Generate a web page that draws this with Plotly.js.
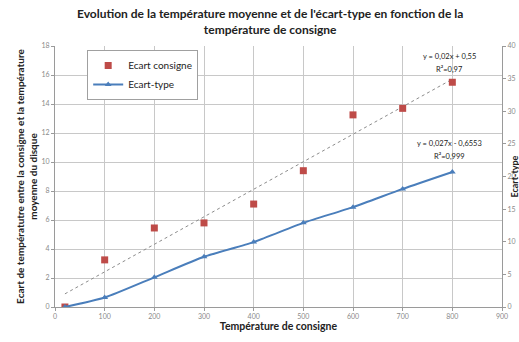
<!DOCTYPE html>
<html><head><meta charset="utf-8">
<script src="https://cdn.plot.ly/plotly-3.0.1.min.js"></script>
<style>html,body{margin:0;padding:0;background:#fff}#c{width:519px;height:342px}</style>
</head><body><div id="c"></div>
<script>
const tempConsigne = [20, 100, 200, 300, 400, 500, 600, 700, 800];
const ecartConsigne = [0, 3.25, 5.45, 5.8, 7.1, 9.4, 13.25, 13.7, 15.5];
const ecartType = [0, 1.45, 4.55, 7.7, 9.95, 12.9, 15.3, 18.1, 20.7];
const eq1 = ["y = 0,02x + 0,55", "R²=0,97"];
const eq2 = ["y = 0,027x - 0,6553", "R²=0,999"];
const titleText = "<b>Evolution de la température moyenne et de l'écart-type en fonction de la<br>température de consigne</b>";
const y2Title = "<b>Ecart-type</b>";

// linear regression for the trendline (as Excel draws it)
const n = tempConsigne.length;
const mx = tempConsigne.reduce((a,b)=>a+b,0)/n;
const my = ecartConsigne.reduce((a,b)=>a+b,0)/n;
let sxy=0, sxx=0;
for (let i=0;i<n;i++){sxy+=(tempConsigne[i]-mx)*(ecartConsigne[i]-my);sxx+=(tempConsigne[i]-mx)**2;}
const slope=sxy/sxx, icpt=my-slope*mx;
const tx=[tempConsigne[0], tempConsigne[n-1]];
const ty=tx.map(x=>slope*x+icpt);

const FONT = "Lato, 'Open Sans', sans-serif";
const traces = [
  {x: tx, y: ty, mode: 'lines', line:{color:'#8c8c8c', width:1, dash:'dot'}, showlegend:false, hoverinfo:'skip'},
  {x: tempConsigne, y: ecartConsigne, mode:'markers', name:'Ecart consigne',
   marker:{symbol:'square', size:7, color:'#be4b48'}},
  {x: tempConsigne, y: ecartType, mode:'lines+markers', name:'Ecart-type', yaxis:'y2',
   line:{color:'#4a7ebb', width:2, shape:'spline', smoothing:0.6},
   marker:{symbol:'triangle-up', size:6, color:'#4a7ebb'}}
];
const tickf = {size:7, color:'#8a8a8a', family:FONT};
const annf = {size:7.5, color:'#222', family:FONT};
const layout = {
  width:519, height:342,
  margin:{l:55, r:17, t:46, b:35},
  paper_bgcolor:'#fff', plot_bgcolor:'#fff',
  font:{family:FONT},
  xaxis:{range:[0,900], dtick:100, tick0:0, showgrid:true, gridcolor:'#c8c8c8', gridwidth:1,
    zeroline:false, showline:true, linecolor:'#9a9a9a', ticks:'outside', ticklen:3, tickcolor:'#9a9a9a',
    tickfont:tickf,
    title:{text:'<b>Température de consigne</b>', font:{size:10.5, color:'#222', family:FONT}, standoff:2}},
  yaxis:{range:[0,18], dtick:2, showgrid:true, gridcolor:'#c8c8c8', zeroline:false,
    showline:true, linecolor:'#9a9a9a', ticks:'outside', ticklen:3, tickcolor:'#9a9a9a', tickfont:tickf,
    title:{text:'<b>Ecart de températutre entre la consigne et la température<br>moyenne du disque</b>',
      font:{size:10, color:'#222', family:FONT}, standoff:1}},
  yaxis2:{range:[0,40], dtick:5, overlaying:'y', side:'right', showgrid:false, zeroline:false,
    showline:true, linecolor:'#9a9a9a', ticks:'outside', ticklen:3, tickcolor:'#9a9a9a', tickfont:tickf},
  legend:{x:0.072, y:0.985, xanchor:'left', yanchor:'top', bgcolor:'#fff', bordercolor:'#a0a0a0', borderwidth:1,
    font:{size:10, color:'#222', family:FONT}, tracegroupgap:10, itemwidth:30},
  annotations:[
    {x:0.481, y:1.16, xref:'paper', yref:'paper', text:titleText, showarrow:false, yanchor:'top', xanchor:'center',
     font:{size:12, color:'#222', family:FONT}},
    {x:1.027, y:0.5, xref:'paper', yref:'paper', text:y2Title, textangle:-90, showarrow:false,
     xanchor:'center', yanchor:'middle', font:{size:9, color:'#222', family:FONT}},
    {x:795, y:16.8, xref:'x', yref:'y', text:eq1[0], showarrow:false, font:annf, yanchor:'bottom'},
    {x:795, y:16.8, xref:'x', yref:'y', text:eq1[1], showarrow:false, font:annf, yanchor:'top'},
    {x:795, y:10.8, xref:'x', yref:'y', text:eq2[0], showarrow:false, font:annf, yanchor:'bottom'},
    {x:795, y:10.8, xref:'x', yref:'y', text:eq2[1], showarrow:false, font:annf, yanchor:'top'}
  ]
};
Plotly.newPlot('c', traces, layout, {displayModeBar:false, staticPlot:true});
</script></body></html>
